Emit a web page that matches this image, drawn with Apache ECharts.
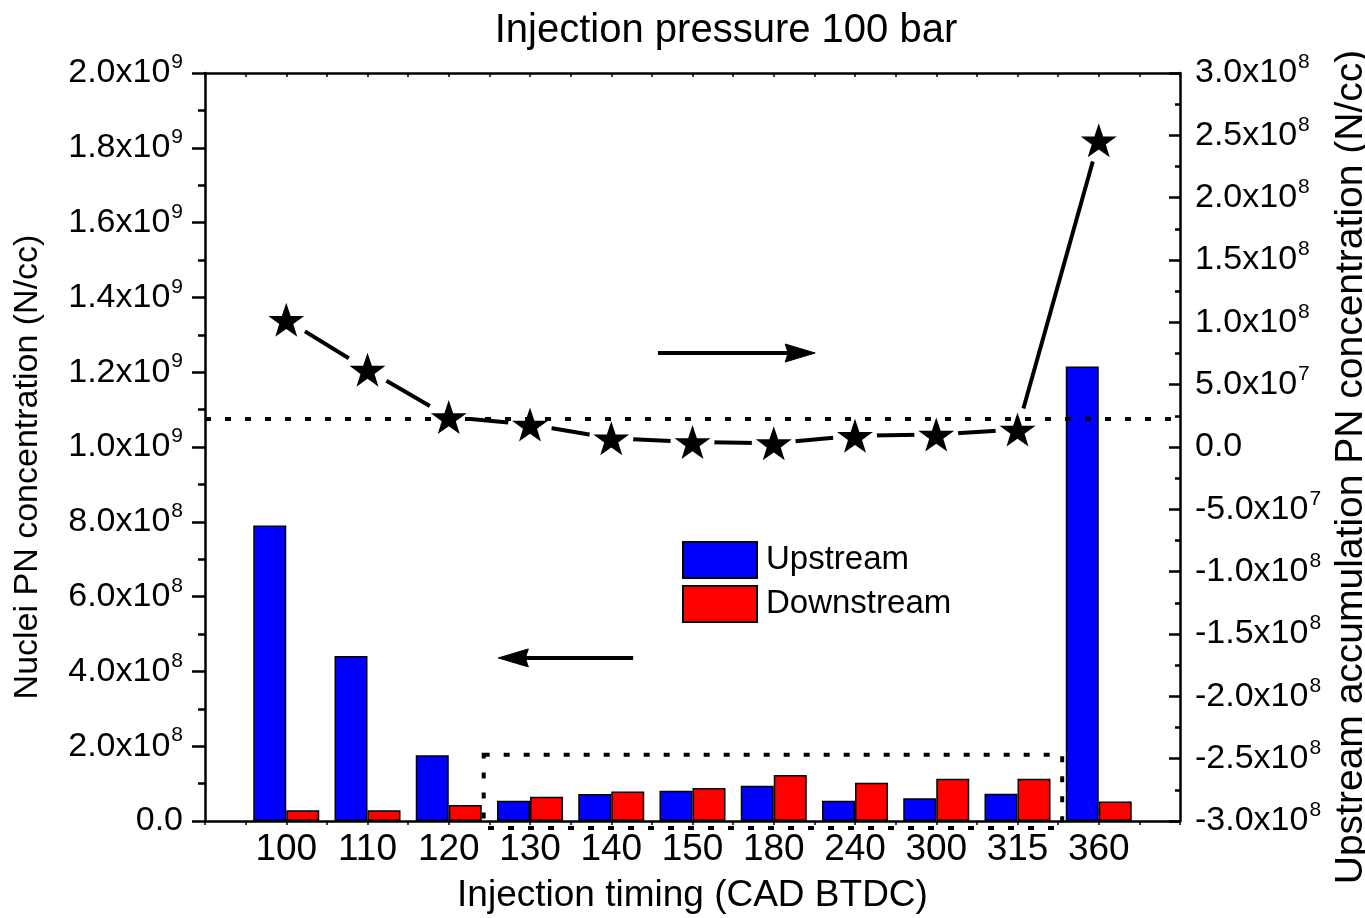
<!DOCTYPE html>
<html>
<head>
<meta charset="utf-8">
<script src="https://cdn.jsdelivr.net/npm/echarts@6/dist/echarts.min.js"></script>
<style>
html,body{margin:0;padding:0;background:#fff;overflow:hidden;}
#chart{width:1365px;height:918px;}
</style>
</head>
<body>
<div id="chart"></div>
<script>
const categories = ['100','110','120','130','140','150','180','240','300','315','360'];
const upstream   = [7.90e8, 4.41e8, 1.76e8, 0.54e8, 0.72e8, 0.81e8, 0.94e8, 0.54e8, 0.61e8, 0.73e8, 12.15e8];
const downstream = [0.29e8, 0.29e8, 0.43e8, 0.65e8, 0.79e8, 0.88e8, 1.23e8, 1.02e8, 1.13e8, 1.13e8, 0.52e8];
const accumulation = [1.02e8, 0.62e8, 0.24e8, 0.18e8, 0.07e8, 0.04e8, 0.03e8, 0.09e8, 0.10e8, 0.14e8, 2.46e8];
const refLevel = 2.3e7;          // dotted horizontal reference (right axis)
const leftTicks = {min: 0, max: 2e9, interval: 2e8};
const rightTicks = {min: -3e8, max: 3e8, interval: 5e7};

const FONT = '"Liberation Sans", Arial, sans-serif';
const STAR = 'path://M50,0 L61.8,35.1 L98.1,35.1 L68.8,56.8 L79.4,91 L50,70 L20.6,91 L31.2,56.8 L1.9,35.1 L38.2,35.1 Z';

function sci(v){
  if (Math.abs(v) < 1) return '0.0';
  const neg = v < 0; const a = Math.abs(v);
  const e = Math.floor(Math.log10(a) + 1e-9);
  const m = a / Math.pow(10, e);
  return (neg ? '-' : '') + m.toFixed(1) + 'x10{s|' + e + '}';
}
const labelRich = {
  s: {fontSize: 21, fontFamily: FONT, color: '#000', padding: [0, 0, 21, 1]}
};

const chart = echarts.init(document.getElementById('chart'), null, {renderer: 'canvas'});
const upData = upstream.map((v, i) => [i, v]);
const downData = downstream.map((v, i) => [i, v]);
const accData = accumulation.map((v, i) => [i, v]);

const option = {
  backgroundColor: '#fff',
  animation: false,
  title: {
    text: 'Injection pressure 100 bar',
    left: 721, top: 6, textAlign: 'center',
    textStyle: {fontSize: 40, fontWeight: 'normal', color: '#000', fontFamily: FONT}
  },
  legend: {
    data: ['Upstream', 'Downstream'],
    orient: 'vertical', left: 682, top: 541, padding: 0,
    itemWidth: 74, itemHeight: 36, itemGap: 6, icon: 'rect',
    textStyle: {fontSize: 33, color: '#000', fontFamily: FONT, padding: [0, 0, 0, 4]}
  },
  grid: {left: 205, right: 185, top: 73, bottom: 97, containLabel: false, outerBoundsMode: 'none'},
  xAxis: [{
    type: 'value', min: -1, max: 11, interval: 0.5,
    position: 'bottom',
    name: 'Injection timing (CAD BTDC)', nameLocation: 'middle', nameGap: 56,
    nameTextStyle: {fontSize: 37, color: '#000', fontFamily: FONT},
    axisLine: {onZero: false, lineStyle: {color: '#000', width: 2.5}},
    axisTick: {show: true, inside: false, length: 4, lineStyle: {color: '#000', width: 1.5}},
    axisLabel: {
      fontSize: 37, color: '#000', fontFamily: FONT, margin: 10,
      formatter: v => (Number.isInteger(v) && v >= 0 && v < categories.length) ? categories[v] : ''
    },
    splitLine: {show: false}
  }, {
    type: 'value', min: -1, max: 11, interval: 0.5,
    position: 'top',
    axisLine: {onZero: false, lineStyle: {color: '#000', width: 2.5}},
    axisTick: {show: true, inside: true, length: 4, lineStyle: {color: '#000', width: 1.5}},
    axisLabel: {show: false},
    splitLine: {show: false}
  }],
  yAxis: [{
    type: 'value', min: leftTicks.min, max: leftTicks.max, interval: leftTicks.interval,
    position: 'left',
    name: 'Nuclei PN concentration (N/cc)', nameLocation: 'middle', nameGap: 160,
    nameTextStyle: {fontSize: 34, color: '#000', fontFamily: FONT, padding: [0, 40, 0, 0]},
    axisLine: {show: true, onZero: false, lineStyle: {color: '#000', width: 2.5}},
    axisTick: {show: true, inside: false, length: 13, lineStyle: {color: '#000', width: 2.5}},
    minorTick: {show: true, splitNumber: 2, length: 7, lineStyle: {color: '#000', width: 2.5}},
    axisLabel: {fontSize: 34, color: '#000', fontFamily: FONT, margin: 22, formatter: sci, rich: labelRich},
    splitLine: {show: false}
  }, {
    type: 'value', min: rightTicks.min, max: rightTicks.max, interval: rightTicks.interval,
    position: 'right',
    name: 'Upstream accumulation PN concentration (N/cc)', nameLocation: 'middle', nameGap: 147,
    nameRotate: 90,
    nameTextStyle: {fontSize: 39, color: '#000', fontFamily: FONT, padding: [0, 40, 0, 0]},
    axisLine: {show: true, onZero: false, lineStyle: {color: '#000', width: 2.5}},
    axisTick: {show: true, inside: true, length: 11, lineStyle: {color: '#000', width: 2.5}},
    minorTick: {show: true, splitNumber: 2, length: 5, lineStyle: {color: '#000', width: 2.5}},
    axisLabel: {fontSize: 34, color: '#000', fontFamily: FONT, margin: 15, formatter: sci, rich: labelRich},
    splitLine: {show: false}
  }],
  series: [{
    name: 'Upstream', type: 'bar', xAxisIndex: 0, yAxisIndex: 0,
    data: upData, barWidth: 33, barGap: '0%',
    itemStyle: {color: '#0000FF', borderColor: '#000', borderWidth: 1.5}
  }, {
    name: 'Downstream', type: 'bar', xAxisIndex: 0, yAxisIndex: 0,
    data: downData, barWidth: 33, barGap: '0%',
    itemStyle: {color: '#FF0000', borderColor: '#000', borderWidth: 1.5}
  }, {
    name: 'Accumulation', type: 'line', xAxisIndex: 0, yAxisIndex: 1,
    data: accData,
    symbol: 'circle', symbolSize: 44,
    lineStyle: {color: '#000', width: 4, type: 'solid'},
    itemStyle: {color: '#fff', borderWidth: 0},
    z: 5,
    markLine: {
      silent: true, symbol: ['none', 'none'], label: {show: false}, z: 7,
      lineStyle: {color: '#000', width: 4, type: [6, 14]},
      data: [{yAxis: refLevel}]
    }
  }, {
    name: 'Accumulation markers', type: 'scatter', xAxisIndex: 0, yAxisIndex: 1,
    data: accData,
    symbol: STAR, symbolSize: [36, 34],
    itemStyle: {color: '#000', opacity: 1},
    z: 6
  }]
};
chart.setOption(option);

// annotations, expressed in data units and converted through the axes
const arrowRight = {x1: 4.575, x2: 6.51, y: 0.754e8, axis: 1};
const arrowLeft  = {x1: 4.27,  x2: 2.61, y: 4.36e8,  axis: 0};
const boxAnno = {x1: 2.43, x2: 9.55, y1: 1.77e8, y2: -0.19e8};

function px(x, y, yi){
  return [chart.convertToPixel({xAxisIndex: 0}, x), chart.convertToPixel({yAxisIndex: yi}, y)];
}
function arrow(a){
  const p1 = px(a.x1, a.y, a.axis), p2 = px(a.x2, a.y, a.axis);
  const dir = Math.sign(p2[0] - p1[0]);
  const headLen = 30, headW = 9;
  const base = p2[0] - dir * headLen;
  return [{
    type: 'line', z: 20,
    shape: {x1: p1[0], y1: p1[1], x2: base + dir * 4, y2: p2[1]},
    style: {stroke: '#000', lineWidth: 4}
  }, {
    type: 'polygon', z: 20,
    shape: {points: [[p2[0], p2[1]], [base, p2[1] - headW], [base + dir * 3, p2[1]], [base, p2[1] + headW]]},
    style: {fill: '#000', stroke: '#000', lineWidth: 1, lineJoin: 'round'}
  }];
}
const b1 = px(boxAnno.x1, boxAnno.y1, 0), b2 = px(boxAnno.x2, boxAnno.y2, 0);
const graphics = [].concat(arrow(arrowRight), arrow(arrowLeft), [{
  type: 'rect', z: 20,
  shape: {x: b1[0], y: b1[1], width: b2[0] - b1[0], height: b2[1] - b1[1]},
  style: {fill: 'none', stroke: '#000', lineWidth: 4, lineDash: [6, 14]}
}]);
chart.setOption({graphic: graphics});
</script>
</body>
</html>
